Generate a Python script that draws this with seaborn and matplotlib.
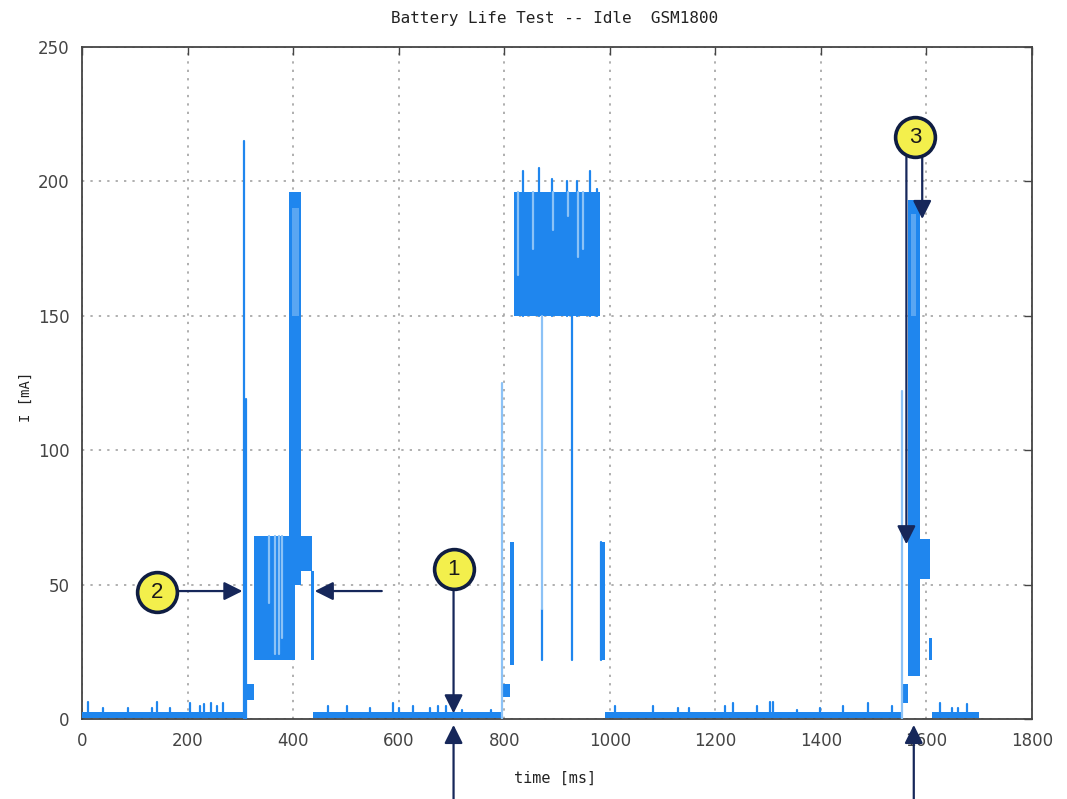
import pandas as pd
import matplotlib.pyplot as plt
import seaborn as sns

sns.set_theme(style="white")
plt.rcParams["font.family"] = ["DejaVu Sans"]

# =========================
# DATA
# =========================
# idle floor, drawn as a thin band
idle_t0 = [0, 438, 991, 1611]
idle_t1 = [307, 795, 1553, 1700]
idle_lo = [0.3, 0.3, 0.3, 0.3]
idle_hi = [2.7, 2.7, 2.7, 2.7]

# small spikes on the idle floor
blip_t = [12, 40, 88, 132, 142, 167, 205, 223, 232, 245, 255, 267,
          466, 502, 545, 590, 600, 628, 660, 675, 690, 720, 775,
          1010, 1082, 1129, 1150, 1218, 1234, 1278, 1303, 1309, 1355,
          1398, 1442, 1489, 1534, 1626, 1648, 1660, 1677]
blip_h = [6.4, 4, 4, 4, 6.5, 4, 6, 5, 5.5, 6, 5, 6,
          5, 5, 4, 6, 4, 5, 4, 5, 5, 3.5, 3.5,
          5, 5, 4, 4, 5, 6, 5, 6.5, 6.5, 3.5,
          4, 5, 6, 5, 6, 4, 4, 5.5]

# dense switching regions: time span and current envelope
band_t0 = [311, 325, 393, 406, 434, 798, 811, 818, 981, 1554, 1565, 1579, 1605]
band_t1 = [325, 404, 415, 436, 440, 811, 818, 981, 991, 1565, 1588, 1607, 1611]
band_lo = [7, 22, 50, 55, 22, 8, 20, 150, 22, 6, 16, 52, 22]
band_hi = [13, 68, 196, 68, 55, 13, 66, 196, 66, 13, 193, 67, 30]

# sparser (lighter) regions on top of the peaks
soft_t0 = [397, 1570]
soft_t1 = [411, 1580]
soft_lo = [150, 150]
soft_hi = [190, 188]

# single traces (vertical strokes)
line_t = [307, 310, 871, 928, 835, 866, 890, 918, 937, 962, 975, 984]
line_lo = [0, 0, 22, 22, 150, 150, 150, 150, 150, 150, 150, 22]
line_hi = [215, 119, 41, 150, 204, 205, 201, 200, 200, 204, 197, 66]

# lighter traces (sparser samples)
light_t = [795, 1553, 871, 355, 366, 374, 378, 826, 854, 893, 921, 940, 950]
light_lo = [0, 0, 41, 43, 24, 24, 30, 165, 175, 182, 187, 172, 175]
light_hi = [125, 122, 150, 68, 68, 68, 68, 196, 196, 196, 196, 196, 196]

# markers: label, position of circle
mark_lab = ["1", "2", "3"]
mark_t = [704, 143, 1578]
mark_i = [55.7, 47.1, 216.5]

x_ticks = list(range(0, 1801, 200))
y_ticks = list(range(0, 251, 50))

BLUE = "#1f86ee"
LIGHT = "#8cc2f6"
NAVY = "#16275a"

# =========================
# FIGURE
# =========================
fig = plt.figure(figsize=(10.67, 7.99), dpi=100)
ax = fig.add_axes([82 / 1067, 80 / 799, 950 / 1067, 672 / 799])

for t0, t1, lo, hi in zip(idle_t0, idle_t1, idle_lo, idle_hi):
    ax.fill_between([t0, t1], lo, hi, color=BLUE, lw=0, zorder=3)

for t0, t1, lo, hi in zip(band_t0, band_t1, band_lo, band_hi):
    ax.fill_between([t0, t1], lo, hi, color=BLUE, lw=0, zorder=3)

for t0, t1, lo, hi in zip(soft_t0, soft_t1, soft_lo, soft_hi):
    ax.fill_between([t0, t1], lo, hi, color="#5aa6f2", lw=0, zorder=3)

rows = []
for k, (t, h) in enumerate(zip(blip_t, blip_h)):
    rows += [dict(seg=f"b{k}", t=t, I=1.0, kind="main"),
             dict(seg=f"b{k}", t=t, I=h, kind="main")]
for k, (t, lo, hi) in enumerate(zip(line_t, line_lo, line_hi)):
    rows += [dict(seg=f"l{k}", t=t, I=lo, kind="main"),
             dict(seg=f"l{k}", t=t, I=hi, kind="main")]
for k, (t, lo, hi) in enumerate(zip(light_t, light_lo, light_hi)):
    rows += [dict(seg=f"g{k}", t=t, I=lo, kind="light"),
             dict(seg=f"g{k}", t=t, I=hi, kind="light")]
seg_df = pd.DataFrame(rows)

sns.lineplot(data=seg_df, x="t", y="I", units="seg", estimator=None,
             hue="kind", palette={"main": BLUE, "light": LIGHT},
             sort=False, legend=False, lw=1.6, ax=ax, zorder=4)

# axes look (gnuplot-like)
ax.set_xlim(0, 1800)
ax.set_ylim(0, 250)
ax.set_xticks(x_ticks)
ax.set_yticks(y_ticks)
ax.grid(True, linestyle=(0, (1.5, 4)), color="#9a9a9a", lw=1.1)
ax.set_axisbelow(True)
for s in ax.spines.values():
    s.set_color("#444444")
    s.set_linewidth(1.3)
ax.tick_params(direction="in", top=True, right=True, length=6, width=1,
               color="#444444", labelcolor="#444444", labelsize=12, pad=9)

ax.set_xlabel("time [ms]", family="DejaVu Sans Mono", fontsize=11, color="#222222")
ax.set_ylabel("I [mA]", family="DejaVu Sans Mono", fontsize=10, color="#222222")
ax.xaxis.set_label_coords(0.498, -0.077)
ax.yaxis.set_label_coords(-0.052, 0.48)
ax.text(0.498, 1.043, "Battery Life Test -- Idle  GSM1800", transform=ax.transAxes,
        ha="center", va="center", family="DejaVu Sans Mono", fontsize=11.5,
        color="#222222")

# =========================
# ANNOTATIONS
# =========================
arrow = dict(arrowstyle="-|>,head_length=0.8,head_width=0.4", mutation_scale=14,
             color=NAVY, lw=1.6, shrinkA=0, shrinkB=0)

def arr(x0, y0, x1, y1):
    ax.annotate("", xy=(x1, y1), xytext=(x0, y0), arrowprops=arrow,
                annotation_clip=False, zorder=6)

# marker 1
arr(704, 48, 704, 2.1)
arr(704, -30, 704, -2.2)
# marker 2
arr(182, 47.6, 304, 47.6)
arr(568, 47.6, 441, 47.6)
# marker 3
arr(1562, 209, 1562, 65)
arr(1592, 209, 1592, 186)
arr(1576, -30, 1576, -2.2)

ax.scatter(mark_t, mark_i, s=820, color="#f3ef4c", edgecolor="#0f1d42",
           linewidth=2.6, zorder=7, clip_on=False)
for lab, t, i in zip(mark_lab, mark_t, mark_i):
    ax.text(t, i, lab, ha="center", va="center", fontsize=16,
            family="Liberation Sans", color="#1a1a1a", zorder=8)

fig.savefig("out.png", dpi=100)
